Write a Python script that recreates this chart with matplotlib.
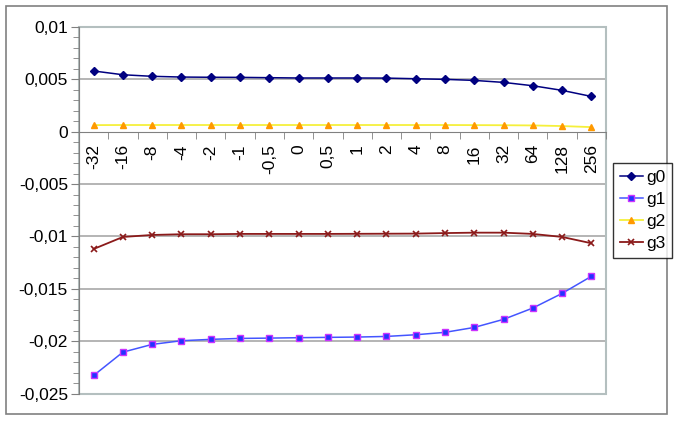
import matplotlib
matplotlib.use('Agg')
import matplotlib.pyplot as plt
import matplotlib.patches as patches
import numpy as np

plt.rcParams['font.family'] = ['Liberation Sans', 'DejaVu Sans']

categories = ['-32', '-16', '-8', '-4', '-2', '-1', '-0,5', '0', '0,5', '1',
              '2', '4', '8', '16', '32', '64', '128', '256']

g0 = [0.00580, 0.00544, 0.00529, 0.00522, 0.00520, 0.00519, 0.00516, 0.00513, 0.00513,
      0.00513, 0.00512, 0.00506, 0.00500, 0.00490, 0.00471, 0.00439, 0.00395, 0.00337]
g1 = [-0.02328, -0.02105, -0.02031, -0.01996, -0.01983, -0.01974, -0.01971, -0.01967,
      -0.01964, -0.01961, -0.01955, -0.01939, -0.01916, -0.01869, -0.01792, -0.01684,
      -0.01544, -0.01381]
g2 = [0.00063, 0.00064, 0.00064, 0.00064, 0.00064, 0.00064, 0.00064, 0.00064, 0.00064,
      0.00064, 0.00064, 0.00064, 0.00064, 0.00063, 0.00062, 0.00060, 0.00054, 0.00044]
g3 = [-0.01120, -0.01005, -0.00986, -0.00979, -0.00979, -0.00976, -0.00976, -0.00976,
      -0.00976, -0.00975, -0.00974, -0.00973, -0.00968, -0.00964, -0.00964, -0.00976,
      -0.01005, -0.01065]

yticks = [0.01, 0.005, 0, -0.005, -0.01, -0.015, -0.02, -0.025]
ytick_labels = ['0,01', '0,005', '0', '-0,005', '-0,01', '-0,015', '-0,02', '-0,025']

W, H = 678, 424
fig = plt.figure(figsize=(W / 100, H / 100), dpi=100)
ax = fig.add_axes([79 / W, 1 - 393.5 / H, (606 - 79) / W, (393.5 - 27) / H])

x = np.arange(len(categories))
ax.plot(x, g0, color='#000080', marker='D', markersize=4, lw=1.1, label='g0')
ax.plot(x, g1, color='#4455ff', marker='s', markersize=5, mfc='#2233ff', mec='#cc33ff',
        mew=1, lw=1.1, label='g1')
ax.plot(x, g2, color='#f5f03c', marker='^', markersize=5, mfc='#ff9900', mec='#ff9900',
        lw=1.3, label='g2')
ax.plot(x, g3, color='#8b1a1a', marker='x', markersize=5, mew=1.2, lw=1.3, label='g3')

ax.set_xlim(-0.5, len(categories) - 0.5)
ax.set_ylim(-0.025, 0.01)

# y axis
ax.set_yticks(yticks)
ax.set_yticklabels(ytick_labels, fontsize=12.5)
ax.set_yticks(np.arange(-0.025, 0.0101, 0.001), minor=True)
ax.tick_params(axis='y', which='major', direction='out', length=6, color='#808080', pad=2)
ax.tick_params(axis='y', which='minor', direction='out', length=4, color='#808080')
for yv in [0.005, -0.005, -0.01, -0.015, -0.02]:
    ax.axhline(yv, color='#a8a8a8', lw=1.2, zorder=0)

# x axis crossing at zero
ax.spines['bottom'].set_position(('data', 0))
ax.spines['bottom'].set_color('#808080')
ax.spines['left'].set_color('#808080')
ax.spines['top'].set_visible(False)
ax.spines['right'].set_visible(False)
ax.set_xticks(x)
ax.set_xticklabels(categories, rotation=90, fontsize=12.5)
ax.set_xticks(np.arange(-0.5, len(categories), 1), minor=True)
ax.tick_params(axis='x', which='major', length=0, pad=9)
ax.tick_params(axis='x', which='minor', direction='out', length=5, color='#808080')

# plot area border
ax.add_patch(patches.Rectangle((0, 0), 1, 1, transform=ax.transAxes, fill=False,
                               edgecolor='#b4bfbf', lw=1.5, zorder=0, clip_on=False))

leg = fig.legend(loc='upper left', bbox_to_anchor=(613 / W, 1 - 163 / H), borderaxespad=0,
                 fontsize=12.5, frameon=True, fancybox=False, edgecolor='black',
                 handlelength=1.3, handletextpad=0.2, labelspacing=0.4, borderpad=0.4)
leg.get_frame().set_linewidth(1.0)

# outer chart border
fig.add_artist(patches.Rectangle((6 / W, 1 - 414 / H), (667 - 6) / W, (414 - 6) / H,
                                 transform=fig.transFigure, fill=False,
                                 edgecolor='#808080', lw=1.2))

fig.savefig('out.png', dpi=100)
